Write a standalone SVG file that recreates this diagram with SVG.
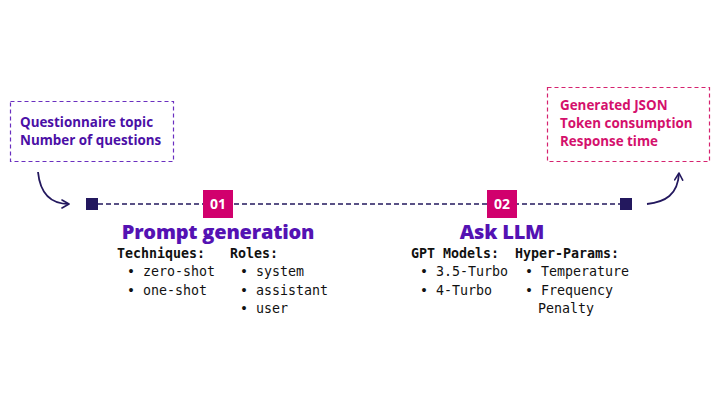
<svg xmlns="http://www.w3.org/2000/svg" width="720" height="405" viewBox="0 0 720 405">
<defs>
<style>
.head{font-family:"Open Sans","Lato",sans-serif;font-weight:800;}
.box-in{font-family:"Open Sans","Lato",sans-serif;font-weight:700;font-size:13.4px;}
.mono{font-family:"DejaVu Sans Mono","Liberation Mono",monospace;font-size:13.3px;fill:#111;}
.monob{font-family:"DejaVu Sans Mono","Liberation Mono",monospace;font-size:13.3px;font-weight:700;fill:#111;}
.num{font-family:"Open Sans","Lato",sans-serif;font-weight:700;font-size:14px;fill:#fff;}
.title{font-size:20px;fill:#5412b3;letter-spacing:-0.2px;}
</style>
<marker id="chev" viewBox="0 0 10 10" refX="8" refY="5" markerWidth="10" markerHeight="10" markerUnits="userSpaceOnUse" orient="auto">
<path d="M1,1 L8,5 L1,9" fill="none" stroke="#23185e" stroke-width="1.6" stroke-linecap="round" stroke-linejoin="round"/>
</marker>
</defs>
<rect width="720" height="405" fill="#fff"/>

<g id="input">
<rect x="10.5" y="101.5" width="163" height="60" fill="none" stroke="#6a2fc0" stroke-width="1.2" stroke-dasharray="4,3"/>
<text class="box-in" x="20" y="127" fill="#4b0fa6">Questionnaire topic</text>
<text class="box-in" x="20" y="145" fill="#4b0fa6">Number of questions</text>
</g>

<g id="output">
<rect x="547.5" y="87.5" width="162" height="74" fill="none" stroke="#d6226f" stroke-width="1.2" stroke-dasharray="4,3"/>
<text class="box-in" x="560" y="110" fill="#d4106c">Generated JSON</text>
<text class="box-in" x="560" y="128" fill="#d4106c">Token consumption</text>
<text class="box-in" x="560" y="146" fill="#d4106c">Response time</text>
</g>

<g id="connectors">
<line x1="98" y1="204" x2="620" y2="204" stroke="#23185e" stroke-width="1.6" stroke-dasharray="5,3"/>
<path d="M38,172 C40,192 50,204 69,204" fill="none" stroke="#23185e" stroke-width="1.8" marker-end="url(#chev)"/>
<path d="M647,204 C665,202 678,195 679,173" fill="none" stroke="#23185e" stroke-width="1.8" marker-end="url(#chev)"/>
<rect x="86" y="198" width="12" height="12" fill="#23185e"/>
<rect x="620" y="198" width="12" height="12" fill="#23185e"/>
</g>

<g id="step1">
<rect x="203" y="190" width="30" height="28" fill="#d1006d"/>
<text class="num" x="218" y="209" text-anchor="middle">01</text>
<text class="head title" x="218" y="239" text-anchor="middle">Prompt generation</text>
<text class="monob" x="117" y="258">Techniques:</text>
<text class="mono" x="127" y="276">• zero-shot</text>
<text class="mono" x="127" y="295">• one-shot</text>
<text class="monob" x="230" y="258">Roles:</text>
<text class="mono" x="240" y="276">• system</text>
<text class="mono" x="240" y="295">• assistant</text>
<text class="mono" x="240" y="313">• user</text>
</g>

<g id="step2">
<rect x="487" y="190" width="30" height="28" fill="#d1006d"/>
<text class="num" x="502" y="209" text-anchor="middle">02</text>
<text class="head title" x="502" y="239" text-anchor="middle">Ask LLM</text>
<text class="monob" x="411" y="258">GPT Models:</text>
<text class="mono" x="420" y="276">• 3.5-Turbo</text>
<text class="mono" x="420" y="295">• 4-Turbo</text>
<text class="monob" x="515" y="258">Hyper-Params:</text>
<text class="mono" x="525" y="276">• Temperature</text>
<text class="mono" x="525" y="295">• Frequency</text>
<text class="mono" x="538" y="313">Penalty</text>
</g>
</svg>
